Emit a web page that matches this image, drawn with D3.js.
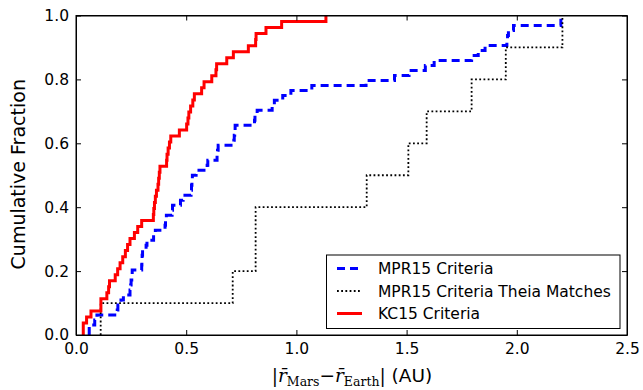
<!DOCTYPE html>
<html>
<head>
<meta charset="utf-8">
<script src="https://cdn.jsdelivr.net/npm/d3@7"></script>
<style>
  body { margin: 0; background: #fff; }
  text { font-family: "DejaVu Sans", sans-serif; }
</style>
</head>
<body>
<svg id="chart" width="643" height="390"></svg>
<script>
// sorted separations (AU)
var kc15 = [0.033, 0.033, 0.048, 0.068, 0.113, 0.113, 0.140, 0.148, 0.152, 0.178,
  0.189, 0.200, 0.212, 0.224, 0.234, 0.245, 0.265, 0.280, 0.298, 0.351,
  0.353, 0.356, 0.360, 0.365, 0.372, 0.375, 0.378, 0.381, 0.411, 0.413,
  0.418, 0.424, 0.430, 0.469, 0.502, 0.508, 0.512, 0.520, 0.530, 0.537,
  0.570, 0.581, 0.616, 0.635, 0.638, 0.684, 0.714, 0.782, 0.815, 0.817,
  0.862, 0.933, 1.134];

var mpr15 = [0.060, 0.060, 0.085, 0.095, 0.187, 0.190, 0.204, 0.215, 0.245, 0.248,
  0.250, 0.253, 0.255, 0.298, 0.299, 0.300, 0.302, 0.318, 0.322, 0.352,
  0.360, 0.404, 0.406, 0.410, 0.436, 0.438, 0.474, 0.486, 0.522, 0.524,
  0.526, 0.528, 0.545, 0.595, 0.598, 0.640, 0.642, 0.645, 0.716, 0.718,
  0.720, 0.722, 0.810, 0.812, 0.822, 0.890, 0.900, 0.938, 0.975, 1.070,
  1.316, 1.445, 1.511, 1.585, 1.625, 1.795, 1.825, 1.856, 1.955, 1.958,
  1.962, 1.985, 2.200, 2.200];

var theia = [0.112, 0.711, 0.815, 0.815, 1.319, 1.508, 1.591, 1.795, 1.950, 2.207];

var seriesNames = ['MPR15 Criteria', 'MPR15 Criteria Theia Matches', 'KC15 Criteria'];

var xTicks = [0, 0.5, 1.0, 1.5, 2.0, 2.5];
var yTicks = [0, 0.2, 0.4, 0.6, 0.8, 1.0];

var series = [
  { name: seriesNames[0], values: mpr15, color: '#0000ff', width: 3, dash: '8,5' },
  { name: seriesNames[1], values: theia, color: '#000', width: 1.8, dash: '1.8,2.4' },
  { name: seriesNames[2], values: kc15, color: '#ff0000', width: 3, dash: null }
];

var svg = d3.select('svg#chart');
var plotL = 76, plotR = 627, plotT = 15.5, plotB = 335;

var x = d3.scaleLinear().domain([0, 2.5]).range([plotL, plotR]);
var y = d3.scaleLinear().domain([0, 1]).range([plotB, plotT]);

function cdfPoints(vals) {
  var n = vals.length;
  var pts = [[vals[0], 0]];
  vals.forEach(function(v, i) { pts.push([v, (i + 1) / n]); });
  return pts;
}

var line = d3.line()
  .x(function(d) { return x(d[0]); })
  .y(function(d) { return y(d[1]); })
  .curve(d3.curveStepAfter);

svg.append('defs').append('clipPath').attr('id', 'clip')
  .append('rect').attr('x', plotL).attr('y', plotT - 2)
  .attr('width', plotR - plotL).attr('height', plotB - plotT + 2);

svg.append('g').attr('clip-path', 'url(#clip)')
  .selectAll('path.cdf').data(series).enter()
  .append('path').classed('cdf', true)
    .attr('d', function(s) { return line(cdfPoints(s.values)); })
    .attr('fill', 'none')
    .attr('stroke', function(s) { return s.color; })
    .attr('stroke-width', function(s) { return s.width; })
    .attr('stroke-dasharray', function(s) { return s.dash; })
;

// axes: ticks inside on all four sides
function fmt(d) { return d.toFixed(1); }
svg.append('g').attr('transform', 'translate(0,' + plotB + ')')
  .call(d3.axisBottom(x).tickValues(xTicks).tickSizeInner(-5).tickSizeOuter(0).tickPadding(8).tickFormat(fmt));
svg.append('g').attr('transform', 'translate(0,' + plotT + ')')
  .call(d3.axisTop(x).tickValues(xTicks).tickSizeInner(-5).tickSizeOuter(0).tickFormat(''));
svg.append('g').attr('transform', 'translate(' + plotL + ',0)')
  .call(d3.axisLeft(y).tickValues(yTicks).tickSizeInner(-5).tickSizeOuter(0).tickPadding(7).tickFormat(fmt));
svg.append('g').attr('transform', 'translate(' + plotR + ',0)')
  .call(d3.axisRight(y).tickValues(yTicks).tickSizeInner(-5).tickSizeOuter(0).tickFormat(''));

svg.selectAll('.tick text').attr('font-family', '"DejaVu Sans", sans-serif').attr('font-size', 15.5).attr('fill', '#000');
svg.selectAll('.domain').attr('stroke', '#000');
svg.selectAll('.tick line').attr('stroke', '#000');

svg.append('rect')
  .attr('x', plotL).attr('y', plotT).attr('width', plotR - plotL).attr('height', plotB - plotT)
  .attr('fill', 'none').attr('stroke', '#000').attr('stroke-width', 1);

// y label
svg.append('text')
  .attr('transform', 'translate(25,' + ((plotT + plotB) / 2 - 1) + ') rotate(-90)')
  .attr('text-anchor', 'middle')
  .attr('font-size', 19)
  .text('Cumulative Fraction');

// x label with math
var xl = svg.append('text')
  .attr('x', 352).attr('y', 382)
  .attr('text-anchor', 'middle')
  .attr('font-size', 18.5);
xl.append('tspan').attr('font-family', '"DejaVu Serif", serif').text('|');
xl.append('tspan').attr('font-family', '"DejaVu Serif", serif').attr('font-style', 'italic').text('r\u0304');
xl.append('tspan').attr('font-family', '"DejaVu Serif", serif').attr('font-size', 12.5).attr('dy', 4).text('Mars');
xl.append('tspan').attr('dy', -4).text('\u2212');
xl.append('tspan').attr('font-family', '"DejaVu Serif", serif').attr('font-style', 'italic').text('r\u0304');
xl.append('tspan').attr('font-family', '"DejaVu Serif", serif').attr('font-size', 12.5).attr('dy', 4).text('Earth');
xl.append('tspan').attr('font-family', '"DejaVu Serif", serif').attr('dy', -4).text('|');
xl.append('tspan').text(' (AU)');

// legend
var legend = svg.append('g');
legend.append('rect')
  .attr('x', 326.5).attr('y', 255).attr('width', 293.5).attr('height', 73.5)
  .attr('fill', '#fff').attr('stroke', '#000').attr('stroke-width', 1);
var rows = legend.selectAll('g.row').data(series).enter()
  .append('g').classed('row', true)
  .attr('transform', function(s, i) { return 'translate(0,' + (268.5 + i * 22.5) + ')'; });
rows.append('line')
  .attr('x1', 337).attr('x2', 362).attr('y1', 0).attr('y2', 0)
  .attr('stroke', function(s) { return s.color; })
  .attr('stroke-width', function(s) { return s.width; })
  .attr('stroke-dasharray', function(s) { return s.dash; });
rows.append('text')
  .attr('x', 378).attr('y', 5.5)
  .attr('font-size', 15.5)
  .text(function(s) { return s.name; });
</script>
</body>
</html>
